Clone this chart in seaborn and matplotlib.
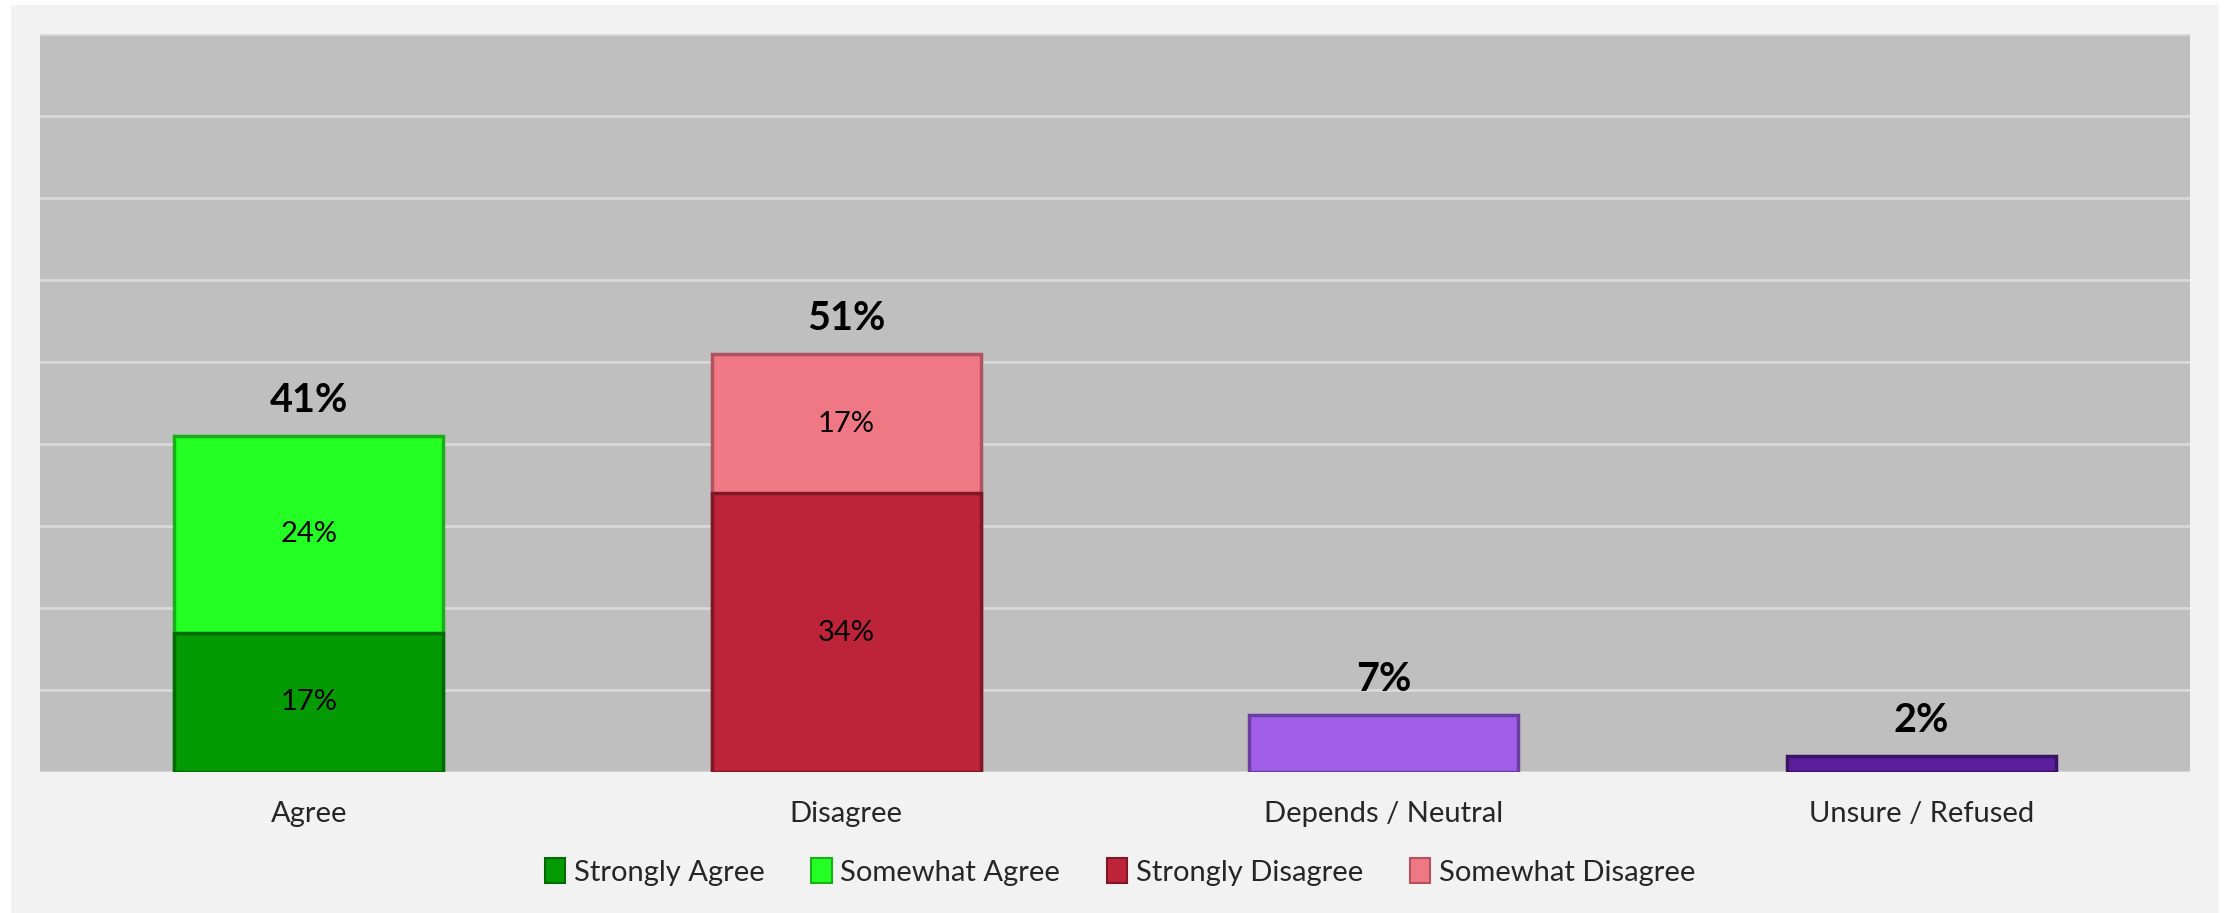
import matplotlib
matplotlib.use("Agg")
import matplotlib.pyplot as plt
import matplotlib.patches as mpatches
import seaborn as sns
import pandas as pd

# Chart data
categories = ["Agree", "Disagree", "Depends / Neutral", "Unsure / Refused"]
strong_vals = [17, 34, 7, 2]
somewhat_cats = ["Agree", "Disagree"]
somewhat_vals = [24, 17]
totals = [41, 51, 7, 2]
legend_labels = ["Strongly Agree", "Somewhat Agree", "Strongly Disagree", "Somewhat Disagree"]

base_colors = ["#039A03", "#BE2439", "#A05EEB", "#5B1F9B"]
base_edges = ["#026A02", "#7E1826", "#6A3DA0", "#3A1266"]
top_colors = ["#24FF24", "#F07784"]
top_edges = ["#17B017", "#B05260"]

sns.set_theme(style="white")
plt.rcParams["font.family"] = ["Lato", "DejaVu Sans"]

fig = plt.figure(figsize=(22.24, 9.13), dpi=100)
fig.patch.set_facecolor("white")
# light gray panel behind the chart
fig.patches.append(mpatches.Rectangle((11 / 2224, 0), (2219 - 11) / 2224, 1 - 5 / 913,
                                      transform=fig.transFigure, facecolor="#F2F2F2",
                                      edgecolor="none", zorder=-10))
ax = fig.add_axes([40 / 2224, 1 - 772 / 913, (2190 - 40) / 2224, (772 - 34) / 913])
ax.set_facecolor("#BFBFBF")

# stacked bars: draw cumulative (strong + somewhat) first, then strong on top
cum_vals = [s + w for s, w in zip(strong_vals[:2], somewhat_vals)]
df_cum = pd.DataFrame({"cat": somewhat_cats, "val": cum_vals})
sns.barplot(data=df_cum, x="cat", y="val", hue="cat", order=categories,
            hue_order=somewhat_cats, palette=top_colors, width=0.5, saturation=1,
            legend=False, dodge=False, ax=ax, zorder=3)
n_top = len(ax.containers)
df_base = pd.DataFrame({"cat": categories, "val": strong_vals})
sns.barplot(data=df_base, x="cat", y="val", hue="cat", order=categories,
            hue_order=categories, palette=base_colors, width=0.5, saturation=1,
            legend=False, dodge=False, ax=ax, zorder=3)

for cont, ec in zip(ax.containers[:n_top], top_edges):
    for p in cont:
        p.set_edgecolor(ec)
        p.set_linewidth(2.5)
for cont, ec in zip(ax.containers[n_top:], base_edges):
    for p in cont:
        p.set_edgecolor(ec)
        p.set_linewidth(2.5)

# segment labels
for i, v in enumerate(strong_vals[:2]):
    ax.text(i, v / 2, f"{v}%", ha="center", va="center", fontsize=21, color="black", zorder=5)
for i, v in enumerate(somewhat_vals):
    ax.text(i, strong_vals[i] + v / 2, f"{v}%", ha="center", va="center", fontsize=21,
            color="black", zorder=5)
# totals
for i, t in enumerate(totals):
    ax.text(i, t + 2.0, f"{t}%", ha="center", va="bottom", fontsize=28.5,
            fontweight="bold", color="black", zorder=5)

ax.set_ylim(0, 90)
ax.set_yticks(range(0, 91, 10))
ax.yaxis.grid(True, color="#D9D9D9", linewidth=2)
ax.set_axisbelow(True)
ax.set_yticklabels([])
ax.tick_params(axis="y", length=0)
ax.tick_params(axis="x", length=0, labelsize=21, pad=21)
ax.set_xlabel("")
ax.set_ylabel("")
for s in ax.spines.values():
    s.set_visible(False)

handles = [mpatches.Patch(facecolor=c, edgecolor=e, linewidth=1.5, label=l)
           for c, e, l in zip([base_colors[0], top_colors[0], base_colors[1], top_colors[1]],
                              [base_edges[0], top_edges[0], base_edges[1], top_edges[1]],
                              legend_labels)]
fig.legend(handles=handles, loc="center", bbox_to_anchor=(1120 / 2224, 1 - 872 / 913),
           ncol=4, frameon=False, fontsize=21, handlelength=0.7, handleheight=0.9,
           handletextpad=0.3, columnspacing=1.6)

fig.savefig("out.png", dpi=100, facecolor=fig.get_facecolor())
